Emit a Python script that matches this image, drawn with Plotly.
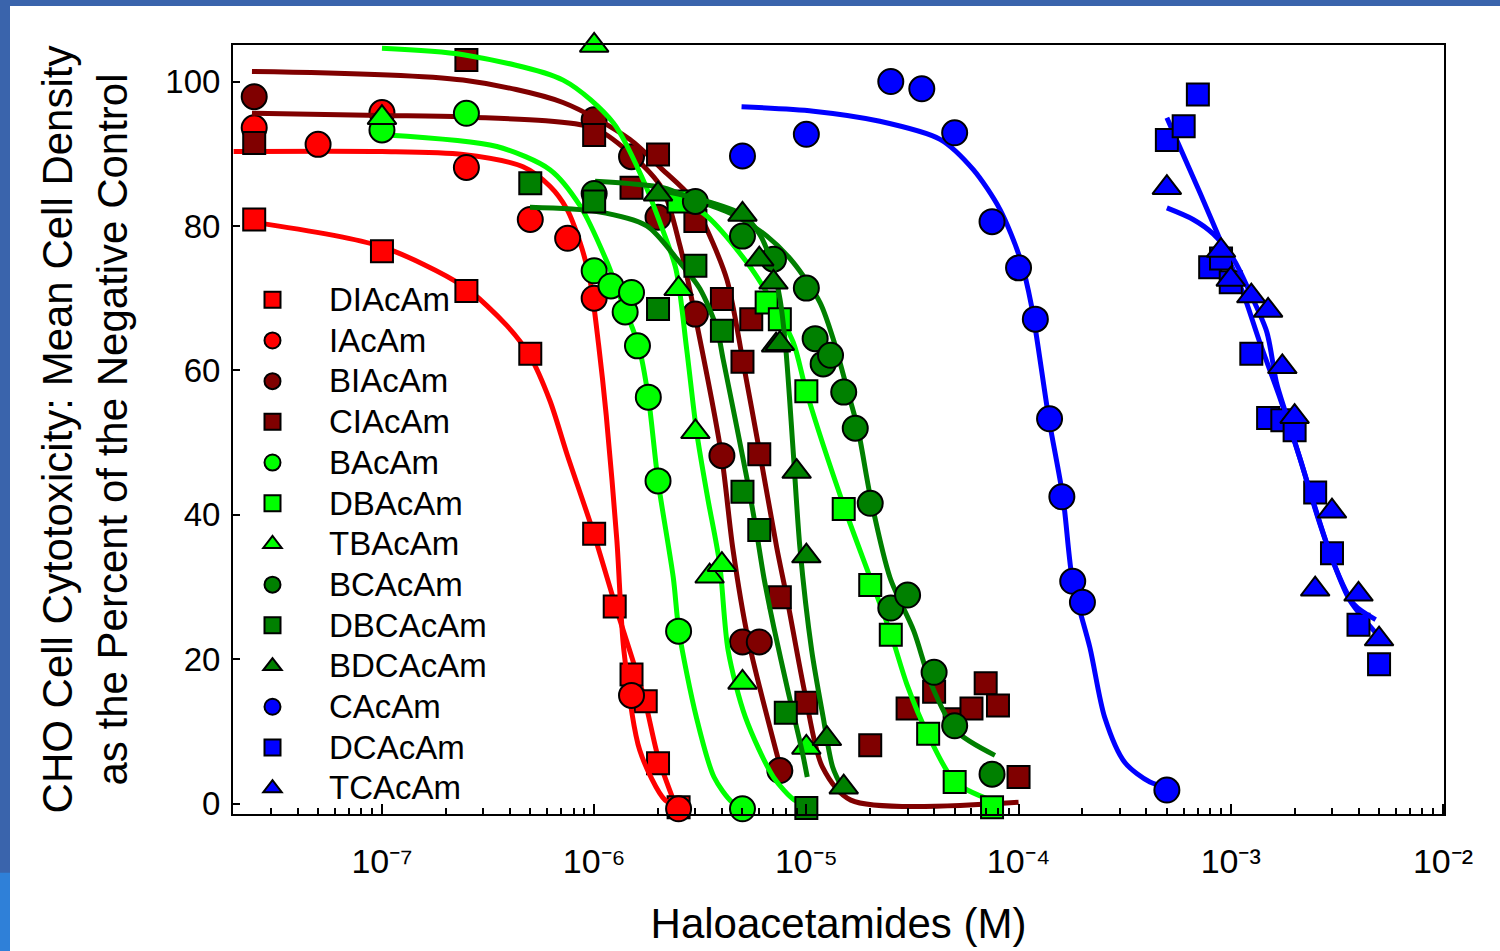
import plotly.graph_objects as go

# ---------------- data (concentration in M, response in % of negative control) ----------------
DIAcAm_x = [2.5e-8, 1e-7, 2.5e-7, 5e-7, 1e-6, 1.25e-6, 1.5e-6, 1.75e-6, 2e-6, 2.5e-6]
DIAcAm_y = [80.9, 76.5, 71.0, 62.3, 37.4, 27.3, 17.9, 14.2, 5.6, -0.5]
DIAcAm_fit_x = [2.5e-8, 9.8e-8, 2.41e-7, 3.88e-7, 4.98e-7, 6.19e-7, 7.45e-7, 9.86e-7, 1.27e-6, 1.72e-6, 2.0e-6, 2.4e-6]
DIAcAm_fit_y = [80.5, 77.2, 71.7, 66.2, 62.0, 55.8, 48.4, 37.8, 27.1, 14.7, 6.5, 0.0]

IAcAm_x = [2.5e-8, 5e-8, 1e-7, 2.5e-7, 5e-7, 7.5e-7, 1e-6, 1.5e-6, 2.5e-6]
IAcAm_y = [93.6, 91.3, 95.7, 88.1, 80.9, 78.3, 70.0, 15.0, -0.7]
IAcAm_fit_x = [2.0e-8, 1e-7, 2.41e-7, 4.62e-7, 6.19e-7, 7.45e-7, 8.58e-7, 9.55e-7, 1.05e-6, 1.14e-6, 1.28e-6, 1.38e-6, 1.64e-6, 2.16e-6, 2.5e-6]
IAcAm_fit_y = [90.3, 90.3, 89.9, 88.2, 85.5, 82.3, 77.7, 72.6, 63.5, 53.8, 36.4, 21.3, 7.4, 0.5, -0.2]

BIAcAm_x = [2.5e-8, 1e-6, 1.5e-6, 2e-6, 3e-6, 4e-6, 5e-6, 6e-6, 7.5e-6]
BIAcAm_y = [97.9, 94.7, 89.6, 81.2, 67.8, 48.2, 22.4, 22.4, 4.6]
BIAcAm_fit_x = [2.44e-8, 1e-7, 2.41e-7, 9.9e-7, 1.47e-6, 2.1e-6, 2.54e-6, 2.98e-6, 3.98e-6, 4.5e-6, 5.3e-6, 7.55e-6]
BIAcAm_fit_y = [95.6, 95.3, 95.1, 93.6, 90.1, 85.1, 77.2, 67.8, 48.3, 35.4, 23.0, 5.0]

CIAcAm_x = [2.5e-8, 2.5e-7, 1e-6, 1.5e-6, 2e-6, 3e-6, 4e-6, 5e-6, 5.5e-6, 6e-6, 7.5e-6, 1e-5,
            2e-5, 3e-5, 4e-5, 5e-5, 6e-5, 7e-5, 8e-5, 1e-4]
CIAcAm_y = [91.5, 103.0, 92.6, 85.3, 89.9, 80.7, 69.9, 61.2, 67.1, 48.4, 28.6, 14.0,
            8.1, 13.2, 15.5, 11.7, 13.2, 16.7, 13.6, 3.7]
CIAcAm_fit_x = [2.44e-8, 2.41e-7, 7.13e-7, 1.47e-6, 2.1e-6, 2.83e-6, 3.4e-6, 4.23e-6, 5.03e-6, 6.04e-6,
                7.26e-6, 8.1e-6, 9.86e-6, 1.19e-5, 1.62e-5, 1.0e-4]
CIAcAm_fit_y = [101.4, 100.2, 97.1, 92.0, 87.8, 84.1, 79.5, 72.5, 61.2, 48.5,
                35.4, 28.5, 15.2, 5.1, 0.5, 0.2]

BAcAm_x = [1e-7, 2.5e-7, 1e-6, 1.2e-6, 1.4e-6, 1.5e-6, 1.6e-6, 1.8e-6, 2e-6, 2.5e-6, 5e-6]
BAcAm_y = [93.3, 95.6, 73.8, 71.7, 68.1, 70.8, 63.4, 56.3, 44.7, 23.9, -0.7]
BAcAm_fit_x = [1.05e-7, 3.48e-7, 6.19e-7, 8.58e-7, 1.15e-6, 1.32e-6, 1.62e-6, 1.8e-6, 2.0e-6, 2.36e-6,
               2.51e-6, 3.03e-6, 3.67e-6, 4.44e-6, 4.98e-6]
BAcAm_fit_y = [92.6, 91.0, 87.8, 82.8, 75.0, 70.3, 63.4, 56.3, 44.7, 31.3,
               23.9, 12.0, 3.7, 0.3, -0.5]

DBAcAm_x = [2.5e-6, 6.5e-6, 7.5e-6, 1e-5, 1.5e-5, 2e-5, 2.5e-5, 3.75e-5, 5e-5, 7.5e-5]
DBAcAm_y = [83.4, 69.4, 67.1, 57.1, 40.8, 30.3, 23.4, 9.7, 3.0, -0.5]
DBAcAm_fit_x = [2.28e-6, 3.39e-6, 5.23e-6, 6.5e-6, 8.67e-6, 1e-5, 1.52e-5, 2.0e-5, 2.51e-5, 2.98e-5,
                3.74e-5, 5.03e-5, 7.41e-5]
DBAcAm_fit_y = [84.6, 81.4, 75.0, 70.8, 63.9, 57.1, 40.8, 31.3, 23.4, 16.5,
                9.6, 3.0, 0.5]

TBAcAm_x = [1e-7, 1e-6, 2.5e-6, 3e-6, 3.5e-6, 4e-6, 5e-6, 1e-5]
TBAcAm_y = [95.0, 105.0, 71.3, 51.5, 31.5, 33.1, 16.8, 7.8]
TBAcAm_fit_x = [1e-7, 2.42e-7, 7.14e-7, 1.23e-6, 1.7e-6, 2.04e-6, 2.43e-6, 2.73e-6, 3.04e-6, 3.43e-6,
                3.9e-6, 4.28e-6, 5.16e-6, 7.0e-6, 8.8e-6, 1.0e-5]
TBAcAm_fit_y = [104.6, 103.7, 100.2, 94.3, 86.4, 80.5, 74.0, 62.9, 51.5, 42.3,
                33.3, 21.2, 12.0, 3.7, 0.5, 0.1]

BCAcAm_x = [1e-6, 3e-6, 5e-6, 7e-6, 1e-5, 1.1e-5, 1.2e-5, 1.3e-5, 1.5e-5, 1.7e-5, 2e-5,
            2.5e-5, 3e-5, 4e-5, 5e-5, 7.5e-5]
BCAcAm_y = [84.5, 83.4, 78.6, 75.4, 71.4, 64.4, 60.9, 62.1, 57.0, 52.0, 41.6,
            27.1, 28.9, 18.2, 10.8, 4.1]
BCAcAm_fit_x = [1.01e-6, 2.11e-6, 2.92e-6, 4.51e-6, 6.52e-6, 8.65e-6, 1.16e-5, 1.36e-5, 1.57e-5, 1.75e-5,
                2.01e-5, 2.48e-5, 3.21e-5, 3.87e-5, 5.07e-5, 7.74e-5]
BCAcAm_fit_y = [86.2, 85.3, 83.7, 81.6, 78.6, 75.0, 69.4, 63.7, 57.0, 51.9,
                42.3, 31.3, 23.9, 16.6, 10.1, 6.7]

DBCAcAm_x = [5e-7, 1e-6, 2e-6, 3e-6, 4e-6, 5e-6, 6e-6, 8e-6, 1e-5]
DBCAcAm_y = [85.9, 83.4, 68.5, 74.5, 65.5, 43.2, 37.9, 12.6, -0.6]
DBCAcAm_fit_x = [4.98e-7, 1.03e-6, 1.77e-6, 2.46e-6, 3.15e-6, 3.79e-6, 4.05e-6, 4.61e-6, 5.25e-6, 5.78e-6,
                 6.31e-6, 7.03e-6, 8.18e-6, 9.53e-6, 1.01e-5]
DBCAcAm_fit_y = [82.6, 82.0, 80.0, 75.4, 71.3, 65.8, 61.6, 53.4, 45.0, 38.2,
                 31.3, 24.4, 15.7, 7.4, 3.7]

BDCAcAm_x = [2e-6, 5e-6, 6e-6, 7e-6, 7.2e-6, 7.5e-6, 9e-6, 1e-5, 1.25e-5, 1.5e-5]
BDCAcAm_y = [84.4, 81.6, 75.4, 72.2, 63.5, 63.7, 46.0, 34.3, 9.0, 2.3]
BDCAcAm_fit_x = [2e-6, 3.15e-6, 4.98e-6, 6.04e-6, 6.88e-6, 7.51e-6, 8.0e-6, 8.65e-6, 9.33e-6, 1.06e-5,
                 1.2e-5, 1.33e-5, 1.5e-5]
BDCAcAm_fit_y = [85.0, 83.7, 81.6, 78.8, 74.7, 69.9, 63.0, 49.2, 35.4, 21.2,
                 12.0, 5.1, 1.8]

CAcAm_x = [5e-6, 1e-5, 2.5e-5, 3.5e-5, 5e-5, 7.5e-5, 1e-4, 1.2e-4, 1.4e-4, 1.6e-4, 1.8e-4, 2e-4, 5e-4]
CAcAm_y = [89.7, 92.7, 100.0, 99.0, 92.9, 80.6, 74.2, 67.1, 53.3, 42.5, 30.8, 27.9, 1.9]
CAcAm_fit_x = [4.95e-6, 1.08e-5, 2.22e-5, 4.27e-5, 6.12e-5, 8.17e-5, 1.02e-4, 1.15e-4, 1.39e-4, 1.62e-4,
               1.8e-4, 2.17e-4, 2.55e-4, 3.17e-4, 4.16e-4, 5.06e-4]
CAcAm_fit_y = [96.5, 95.9, 94.5, 92.0, 87.8, 82.3, 75.4, 69.0, 53.3, 42.4,
               30.7, 21.6, 11.9, 5.7, 3.0, 2.3]

DCAcAm_x = [5e-4, 6e-4, 7e-4, 8e-4, 9e-4, 1e-3, 1.25e-3, 1.5e-3, 1.75e-3, 2e-3, 2.5e-3, 3e-3, 4e-3, 5e-3]
DCAcAm_y = [91.9, 93.8, 98.2, 74.3, 75.5, 72.2, 62.3, 53.4, 53.1, 51.7, 43.1, 34.7, 24.8, 19.3]
DCAcAm_fit_x = [5.0e-4, 7.16e-4, 9.18e-4, 1.14e-3, 1.37e-3, 1.71e-3, 2.12e-3, 2.55e-3, 3.03e-3, 3.65e-3, 5.05e-3]
DCAcAm_fit_y = [95.0, 84.6, 77.2, 70.8, 63.9, 56.1, 47.8, 40.0, 33.6, 28.1, 23.0]

TCAcAm_x = [5e-4, 9e-4, 1e-3, 1.25e-3, 1.5e-3, 1.75e-3, 2e-3, 2.5e-3, 3e-3, 4e-3, 5e-3]
TCAcAm_y = [85.3, 76.6, 72.6, 70.3, 68.3, 60.5, 53.6, 29.7, 40.5, 29.0, 22.8]
TCAcAm_fit_x = [5.0e-4, 6.65e-4, 8.27e-4, 1.03e-3, 1.23e-3, 1.48e-3, 1.64e-3, 1.83e-3, 2.12e-3, 3.03e-3,
                3.81e-3, 4.82e-3]
TCAcAm_fit_y = [82.5, 80.9, 78.9, 75.4, 70.8, 65.3, 58.4, 53.8, 47.8, 33.6,
                27.6, 25.5]

x_tick_vals = [1e-7, 1e-6, 1e-5, 1e-4, 1e-3, 1e-2]
x_tick_text = ["10\u207b\u2077", "10\u207b\u2076", "10\u207b\u2075",
               "10\u207b\u2074", "10\u207b\u00b3", "10\u207b\u00b2"]
y_tick_vals = [0, 20, 40, 60, 80, 100]

# ---------------- styling ----------------
RED = "#ff0000"
MAROON = "#800000"
LIME = "#00ff00"
GREEN = "#008000"
BLUE = "#0000ff"
FONT = "Liberation Sans, Arial, sans-serif"

series = [
    ("DIAcAm", DIAcAm_x, DIAcAm_y, DIAcAm_fit_x, DIAcAm_fit_y, RED, "square"),
    ("IAcAm", IAcAm_x, IAcAm_y, IAcAm_fit_x, IAcAm_fit_y, RED, "circle"),
    ("BIAcAm", BIAcAm_x, BIAcAm_y, BIAcAm_fit_x, BIAcAm_fit_y, MAROON, "circle"),
    ("CIAcAm", CIAcAm_x, CIAcAm_y, CIAcAm_fit_x, CIAcAm_fit_y, MAROON, "square"),
    ("BAcAm", BAcAm_x, BAcAm_y, BAcAm_fit_x, BAcAm_fit_y, LIME, "circle"),
    ("DBAcAm", DBAcAm_x, DBAcAm_y, DBAcAm_fit_x, DBAcAm_fit_y, LIME, "square"),
    ("TBAcAm", TBAcAm_x, TBAcAm_y, TBAcAm_fit_x, TBAcAm_fit_y, LIME, "triangle-up"),
    ("BCAcAm", BCAcAm_x, BCAcAm_y, BCAcAm_fit_x, BCAcAm_fit_y, GREEN, "circle"),
    ("DBCAcAm", DBCAcAm_x, DBCAcAm_y, DBCAcAm_fit_x, DBCAcAm_fit_y, GREEN, "square"),
    ("BDCAcAm", BDCAcAm_x, BDCAcAm_y, BDCAcAm_fit_x, BDCAcAm_fit_y, GREEN, "triangle-up"),
    ("CAcAm", CAcAm_x, CAcAm_y, CAcAm_fit_x, CAcAm_fit_y, BLUE, "circle"),
    ("DCAcAm", DCAcAm_x, DCAcAm_y, DCAcAm_fit_x, DCAcAm_fit_y, BLUE, "square"),
    ("TCAcAm", TCAcAm_x, TCAcAm_y, TCAcAm_fit_x, TCAcAm_fit_y, BLUE, "triangle-up"),
]
marker_size = {"circle": 25, "square": 22, "triangle-up": 25}

fig = go.Figure()
for name, xs, ys, fx, fy, col, sym in series:
    fig.add_trace(go.Scatter(
        x=fx, y=fy, mode="lines", showlegend=False, hoverinfo="skip",
        line=dict(color=col, width=5, shape="spline", smoothing=0.8),
        cliponaxis=True,
    ))
    fig.add_trace(go.Scatter(
        x=xs, y=ys, mode="markers",
        name="<span style='font-size:33px'>" + name + "</span>",
        hovertemplate=name + ": %{x:.3g} M, %{y:.1f}%<extra></extra>",
        marker=dict(symbol=sym, size=marker_size[sym], color=col,
                    line=dict(color="black", width=2)),
        cliponaxis=False,
    ))

# page frame (blue slide border)
W, H = 1500, 951
L, R, T, B = 233, 56, 45, 135
pw, ph = W - L - R, H - T - B


def px_x(p):
    return (p - L) / pw


def px_y(p):
    return (H - B - p) / ph


fig.add_shape(type="rect", xref="paper", yref="paper", layer="below",
              x0=px_x(10), x1=px_x(W + 5), y0=px_y(6), y1=px_y(H + 5),
              fillcolor="white", line=dict(width=0))
fig.add_shape(type="rect", xref="paper", yref="paper", layer="below",
              x0=px_x(-5), x1=px_x(10), y0=px_y(875), y1=px_y(H + 5),
              fillcolor="#2f80d8", line=dict(width=0))

minor_vals = [m * 10.0 ** e for e in range(-8, -2) for m in range(2, 10)]

fig.update_layout(
    width=W, height=H,
    margin=dict(l=L, r=R, t=T, b=B, pad=0),
    paper_bgcolor="#3a64ac",
    plot_bgcolor="white",
    font=dict(family=FONT, color="black"),
    showlegend=True,
    legend=dict(
        x=px_x(216), y=px_y(275), xanchor="left", yanchor="top",
        font=dict(family=FONT, size=29, color="black"),
        bgcolor="rgba(0,0,0,0)", borderwidth=0,
        itemwidth=103, itemsizing="trace", tracegroupgap=0,
    ),
    xaxis=dict(
        type="log", range=[-7.702, -1.995],
        tickmode="array", tickvals=x_tick_vals, ticktext=x_tick_text,
        ticks="inside", ticklen=10, tickwidth=1.5, tickcolor="black",
        minor=dict(tickmode="array", tickvals=minor_vals, ticks="inside",
                   ticklen=6, tickwidth=1.5, tickcolor="black", showgrid=False),
        tickfont=dict(family=FONT, size=34, color="black"),
        ticklabelstandoff=16,
        showline=True, linecolor="black", linewidth=2, mirror=True,
        showgrid=False, zeroline=False,
        title=dict(text="Haloacetamides (M)", font=dict(family=FONT, size=42, color="black"),
                   standoff=30),
    ),
    yaxis=dict(
        range=[-1.42, 105.06],
        tickmode="array", tickvals=y_tick_vals,
        ticks="inside", ticklen=7, tickwidth=1.5, tickcolor="black",
        tickfont=dict(family=FONT, size=33, color="black"),
        ticklabelstandoff=4,
        showline=True, linecolor="black", linewidth=2, mirror=True,
        showgrid=False, zeroline=False,
        title=dict(text="CHO Cell Cytotoxicity: Mean Cell Density<br>as the Percent of the Negative Control",
                   font=dict(family=FONT, size=42, color="black"), standoff=25),
    ),
)

fig.write_html("out.html",
               config={"displayModeBar": False},
               post_script="document.body.style.margin='0px';document.body.style.overflow='hidden';")
